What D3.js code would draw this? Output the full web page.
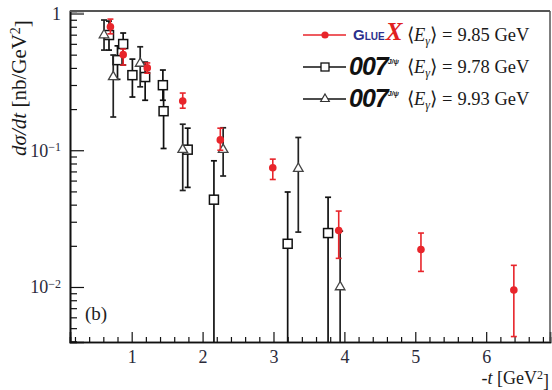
<!DOCTYPE html>
<html>
<head>
<meta charset="utf-8">
<script src="https://cdn.jsdelivr.net/npm/d3@7"></script>
<style>
  body { margin: 0; background: #fff; }
  svg { display: block; }
  text { font-family: "Liberation Serif", "Times New Roman", Times, "DejaVu Serif", serif; fill: #1a1a1a; }
</style>
</head>
<body>
<div class="chart"></div>
<script>
// DATA ------------------------------------
// GlueX, <E> = 9.85 GeV : -t, dsigma/dt, upper, lower
const gluexT = [0.70, 0.88, 1.22, 1.72, 2.25, 2.99, 3.92, 5.08, 6.39];
const gluexV = [0.80, 0.50, 0.40, 0.229, 0.119, 0.0744, 0.0259, 0.0188, 0.0095];
const gluexHi = [0.91, 0.55, 0.435, 0.262, 0.145, 0.0861, 0.0359, 0.0248, 0.0144];
const gluexLo = [0.71, 0.42, 0.366, 0.203, 0.100, 0.0611, 0.0162, 0.0130, 0.00434];

// 007 (squares), <E> = 9.78 GeV
const sqT = [0.68, 0.88, 0.80, 1.01, 1.19, 1.44, 1.45, 1.79, 2.16, 3.20, 3.77];
const sqV = [0.696, 0.598, 0.456, 0.354, 0.343, 0.299, 0.193, 0.101, 0.0435, 0.0207, 0.0248];
const sqHi = [0.88, 0.72, 0.58, 0.464, 0.441, 0.386, 0.284, 0.145, 0.0837, 0.0495, 0.0453];
const sqLo = [0.54, 0.42, 0.33, 0.245, 0.232, 0.232, 0.103, 0.0535, 0.001, 0.001, 0.001];

// 007 (triangles), <E> = 9.93 GeV
const trT = [0.61, 0.74, 1.12, 1.72, 2.29, 3.35, 3.94];
const trV = [0.696, 0.344, 0.431, 0.101, 0.101, 0.0735, 0.0100];
const trHi = [0.896, 0.497, 0.571, 0.155, 0.146, 0.124, 0.0256];
const trLo = [0.54, 0.175, 0.291, 0.0508, 0.0648, 0.0252, 0.001];

const xMajor = [1, 2, 3, 4, 5, 6];
const yMajor = [0.01, 0.1, 1];
const yLabels = [['10', '\u22122'], ['10', '\u22121'], ['1', '']];
const legendE = ['9.85', '9.78', '9.93'];

// CHART INIT ------------------------------
const W = 552, H = 390;
const box = { left: 70, right: 550, top: 11, bottom: 342 };
const serif = '"Liberation Serif", "Times New Roman", Times, serif';

const svg = d3.select('.chart').append('svg').attr('width', W).attr('height', H);

const x = d3.scaleLinear().domain([0.13, 6.9]).range([box.left, box.right]);
const y = d3.scaleLog().domain([0.00396, 1.043]).range([box.bottom, box.top]).clamp(true);

// minor ticks
const xMinor = d3.range(0.2, 6.9, 0.2).filter((v) => Math.abs(v - Math.round(v)) > 0.01);
const yMinor = [];
[0.001, 0.01, 0.1].forEach((d) => d3.range(2, 10).forEach((k) => yMinor.push(d * k)));

const axX = svg.append('g').attr('transform', 'translate(0,' + box.bottom + ')');
axX.append('g').call(d3.axisBottom(x).tickValues(xMinor).tickSize(-5).tickFormat(''));
axX.append('g').call(d3.axisBottom(x).tickValues(xMajor).tickSize(-10).tickFormat(d3.format('d')));
axX.selectAll('g').attr('font-family', null).attr('font-size', null);
axX.selectAll('.domain').attr('stroke', '#111').attr('stroke-width', 1.6);
axX.selectAll('.tick line').attr('stroke', '#111').attr('stroke-width', 1.2);
axX.selectAll('.tick text').attr('y', 8)
  .style('font-size', '18px').style('font-family', serif).style('fill', '#2a2a3a');

const yMinVal = y.domain()[0];
const axY = svg.append('g').attr('transform', 'translate(' + box.left + ',0)');
axY.append('g').call(d3.axisLeft(y).tickValues(yMinor.filter((v) => v > yMinVal && v < 1.04)).tickSize(-7).tickFormat(''));
const yMaj = axY.append('g').call(d3.axisLeft(y).tickValues(yMajor).tickSize(-14).tickFormat(''));
axY.selectAll('g').attr('font-family', null).attr('font-size', null);
axY.selectAll('.domain').attr('stroke', '#111').attr('stroke-width', 1.6);
axY.selectAll('.tick line').attr('stroke', '#111').attr('stroke-width', 1.2);

yMaj.selectAll('.tick').each(function (d, i) {
  const t = d3.select(this).append('text')
    .attr('x', -9).attr('dy', '0.32em').attr('text-anchor', 'end')
    .style('font-size', '18px').style('font-family', serif).style('fill', '#2a2a3a');
  t.append('tspan').text(yLabels[i][0]);
  if (yLabels[i][1]) {
    t.append('tspan').attr('dy', '-0.45em').style('font-size', '12px').text(yLabels[i][1]);
  }
});

// top and right frame
svg.append('line').attr('x1', box.left).attr('x2', box.right).attr('y1', box.top).attr('y2', box.top)
  .attr('stroke', '#555').attr('stroke-width', 2);
svg.append('line').attr('x1', box.right).attr('x2', box.right).attr('y1', box.top).attr('y2', box.bottom)
  .attr('stroke', '#555').attr('stroke-width', 1.5);

// axis titles
const yt = svg.append('text').attr('transform', 'translate(26,' + 88 + ') rotate(-90)')
  .attr('text-anchor', 'middle').style('font-size', '21px').style('font-family', serif);
yt.append('tspan').style('font-style', 'italic').text('d\u03C3/dt');
yt.append('tspan').text(' [nb/GeV');
yt.append('tspan').attr('dy', '-0.45em').style('font-size', '14px').text('2');
yt.append('tspan').attr('dy', '0.45em').text(']');

const xt = svg.append('text').attr('x', 549).attr('y', 384).attr('text-anchor', 'end')
  .style('font-size', '18px').style('font-family', serif);
xt.append('tspan').text('-');
xt.append('tspan').style('font-style', 'italic').text('t');
xt.append('tspan').text(' [GeV');
xt.append('tspan').attr('dy', '-0.45em').style('font-size', '12px').text('2');
xt.append('tspan').attr('dy', '0.45em').text(']');

svg.append('text').attr('x', 85).attr('y', 320).style('font-size', '19px').style('font-family', serif)
  .style('fill', '#222').text('(b)');

// DATA MARKS ------------------------------
const red = '#e8252b';

function errorBars(t, v, hi, lo, color, width) {
  const g = svg.append('g').attr('stroke', color).attr('stroke-width', width);
  t.forEach((tv, i) => {
    const cx = x(tv);
    g.append('line').attr('x1', cx).attr('x2', cx).attr('y1', y(hi[i])).attr('y2', y(lo[i]));
    g.append('line').attr('x1', cx - 3).attr('x2', cx + 3).attr('y1', y(hi[i])).attr('y2', y(hi[i]));
    if (lo[i] > yMinVal) {
      g.append('line').attr('x1', cx - 3).attr('x2', cx + 3).attr('y1', y(lo[i])).attr('y2', y(lo[i]));
    }
  });
}

// 007 squares
errorBars(sqT, sqV, sqHi, sqLo, '#111', 1.7);
svg.append('g').selectAll('rect').data(sqT).join('rect')
  .attr('x', (d) => x(d) - 4.5).attr('y', (d, i) => y(sqV[i]) - 4.5)
  .attr('width', 9).attr('height', 9)
  .attr('fill', '#fff').attr('stroke', '#111').attr('stroke-width', 1.5);

// 007 triangles
errorBars(trT, trV, trHi, trLo, '#222', 1.7);
const tri = d3.symbol().type(d3.symbolTriangle).size(40);
svg.append('g').selectAll('path').data(trT).join('path')
  .attr('d', tri)
  .attr('transform', (d, i) => 'translate(' + x(d) + ',' + y(trV[i]) + ')')
  .attr('fill', '#fff').attr('stroke', '#444').attr('stroke-width', 1.3);

// GlueX
errorBars(gluexT, gluexV, gluexHi, gluexLo, red, 1.6);
svg.append('g').selectAll('circle').data(gluexT).join('circle')
  .attr('cx', (d) => x(d)).attr('cy', (d, i) => y(gluexV[i])).attr('r', 3.8)
  .attr('fill', red);

// LEGEND ----------------------------------
const rows = [35, 67, 99];
const leg = svg.append('g');

// row 1: GlueX
leg.append('line').attr('x1', 303).attr('x2', 346).attr('y1', rows[0]).attr('y2', rows[0]).attr('stroke', red).attr('stroke-width', 1.4);
leg.append('circle').attr('cx', 325).attr('cy', rows[0]).attr('r', 3.6).attr('fill', red);
const gl = leg.append('text').attr('x', 353).attr('y', rows[0] + 5).style('font-family', 'Liberation Sans').style('font-weight', 'bold');
gl.append('tspan').style('font-size', '15px').style('fill', '#2b2f8c').text('G');
gl.append('tspan').style('font-size', '10px').style('fill', '#2b2f8c').text('LUE');
gl.append('tspan').style('font-size', '25px').style('font-style', 'italic').style('font-family', serif)
  .style('fill', '#e02020').attr('dx', '1').text('X');

// row 2: 007 squares
leg.append('line').attr('x1', 303).attr('x2', 346).attr('y1', rows[1]).attr('y2', rows[1]).attr('stroke', '#111').attr('stroke-width', 1.4);
leg.append('rect').attr('x', 321).attr('y', rows[1] - 4).attr('width', 8).attr('height', 8).attr('fill', '#fff').attr('stroke', '#111').attr('stroke-width', 1.3);

// row 3: 007 triangles
leg.append('line').attr('x1', 303).attr('x2', 346).attr('y1', rows[2]).attr('y2', rows[2]).attr('stroke', '#111').attr('stroke-width', 1.4);
leg.append('path').attr('d', d3.symbol().type(d3.symbolTriangle).size(32))
  .attr('transform', 'translate(325,' + rows[2] + ')').attr('fill', '#fff').attr('stroke', '#333').attr('stroke-width', 1.2);

[1, 2].forEach((r) => {
  const t = leg.append('text').attr('x', 349).attr('y', rows[r] + 8)
    .style('font-family', 'Liberation Sans').style('font-weight', 'bold').style('font-style', 'italic');
  t.append('tspan').style('font-size', '25px').style('fill', '#111').attr('letter-spacing', '-1').text('007');
  t.append('tspan').attr('dy', '-11').style('font-size', '7px').style('fill', '#222').text('J/\u03C8');
});

rows.forEach((ry, r) => {
  const t = leg.append('text').attr('x', 407).attr('y', ry + 6)
    .style('font-size', '18.5px').style('font-family', serif);
  t.append('tspan').text('\u27E8');
  t.append('tspan').style('font-style', 'italic').text('E');
  t.append('tspan').attr('dy', '4').style('font-size', '12px').style('font-style', 'italic').text('\u03B3');
  t.append('tspan').attr('dy', '-4').text('\u27E9');
  t.append('tspan').attr('dx', '5').text('=');
  t.append('tspan').attr('dx', '5').text(legendE[r] + ' GeV');
});
</script>
</body>
</html>
